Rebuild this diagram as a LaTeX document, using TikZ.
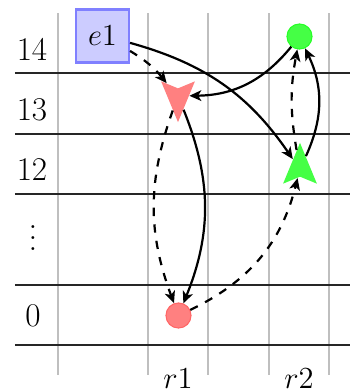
\documentclass[tikz,border=0pt]{standalone}
\usetikzlibrary{arrows.meta,shapes.geometric}
\begin{document}
\begin{tikzpicture}[x=0.016529cm,y=-0.016529cm,
  every node/.style={font=\fontsize{15.6}{18}\selectfont},
  hline/.style={line width=0.52pt, black!85},
  vline/.style={line width=0.52pt, black!25},
  conn/.style={line width=1.04pt, -{Stealth[length=5.6pt,width=5pt,inset=1.5pt]}},
  dashconn/.style={conn, dash pattern=on 3.9pt off 3.9pt},
  evbox/.style={rectangle, fill=blue!20, draw=blue!50, line width=1pt, minimum size=24.9pt, inner sep=0pt},
  redc/.style={circle, fill=red!50, draw=red!60, line width=0.5pt, minimum size=11.8pt, inner sep=0pt},
  greenc/.style={circle, fill=green!73, draw=green!85, line width=0.5pt, minimum size=11.8pt, inner sep=0pt},
  redd/.style={shape=dart, shape border rotate=270, fill=red!50, inner sep=3.6pt},
  greend/.style={shape=dart, shape border rotate=90, fill=green!73, inner sep=3.6pt}]
\useasboundingbox (0,0) rectangle (350,391);
% grid
\foreach \gx in {58,148,208,269,329} \draw[vline] (\gx,13) -- (\gx,375);
\foreach \gy in {73,134,194,285,345} \draw[hline] (15,\gy) -- (350,\gy);
% row labels
\node[anchor=base] (l14) at (32,60) {14};
\node[anchor=base] (l13) at (32,120) {13};
\node[anchor=base] (l12) at (32,180) {12};
\node[anchor=base] (ldots) at (33,250.5) {\fontsize{10}{12}\selectfont\scalebox{1.3}{$\vdots$}};
\node[anchor=base] (l0) at (33,326) {0};
% column labels
\node[anchor=base] (lr1) at (178,388) {$r1$};
\node[anchor=base] (lr2) at (299,388) {$r2$};
% nodes
\node[evbox] (e1) at (102.5,36) {$e1$};
\node[greenc] (gc) at (299.5,36.5) {};
\node[redc] (rc) at (178.5,315.5) {};
\node[redd] (rt) at (178,96) {};
\node[greend] (gt) at (300,169) {};
% connectors
\draw[dashconn] (e1) to[bend left=10] (rt);
\draw[conn] (e1) to[bend left=20] (gt);
\draw[conn] (gc) to[bend left=25] (rt);
\draw[conn] (rt) to[bend left=22] (rc);
\draw[dashconn] (rt) to[bend right=20] (rc);
\draw[dashconn] (rc) to[bend right=25] (gt);
\draw[dashconn] (gt) to[bend left=10] (gc);
\draw[conn] (gt) to[bend right=25] (gc);
\end{tikzpicture}
\end{document}
